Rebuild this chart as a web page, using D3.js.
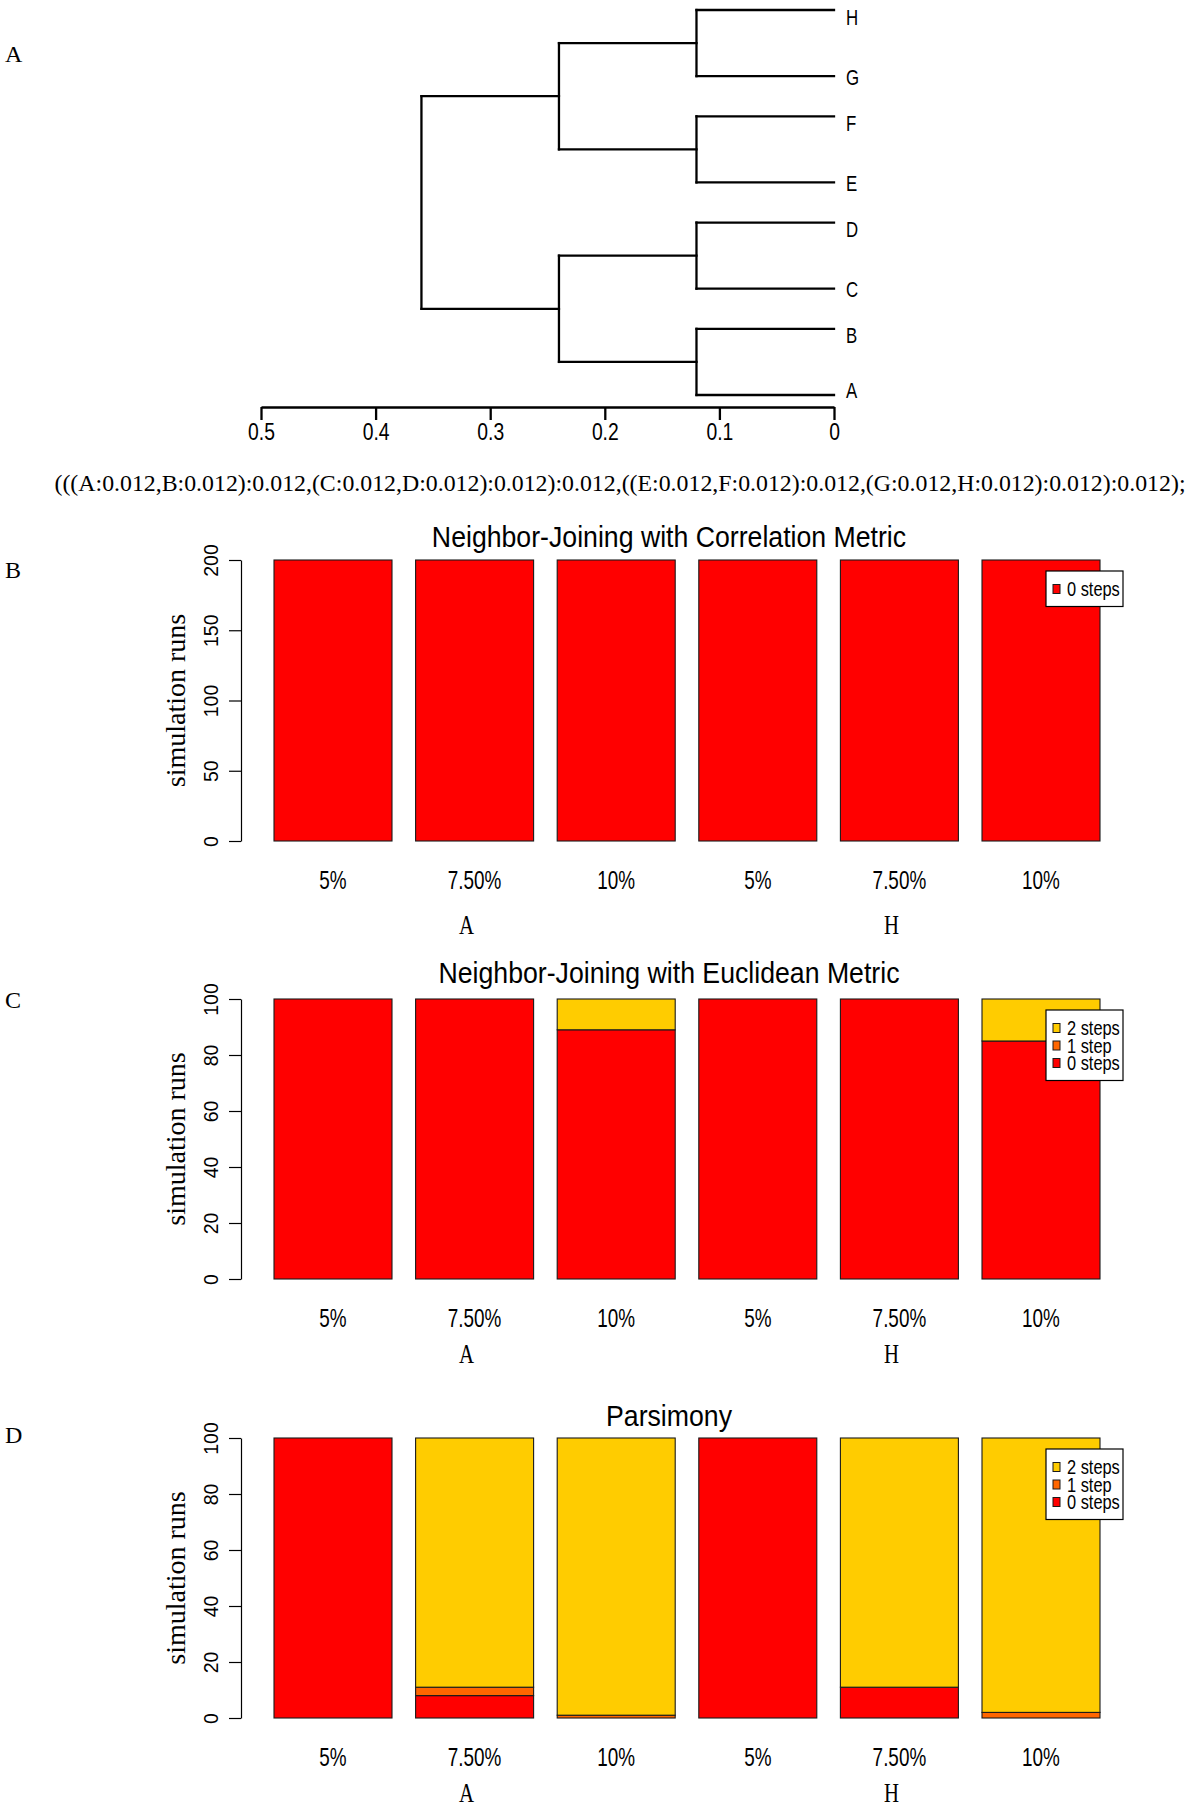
<!DOCTYPE html>
<html>
<head>
<meta charset="utf-8">
<script src="https://cdn.jsdelivr.net/npm/d3@7"></script>
<style>
  html, body { margin: 0; padding: 0; background: #fff; }
  svg { display: block; }
</style>
</head>
<body>
<svg id="fig" width="1200" height="1804"></svg>
<script>
// ---------------- DATA ----------------
// Panel A: tree (nested leaf pairs) and clade heights, by depth
const treeTopology = [[["A", "B"], ["C", "D"]], [["E", "F"], ["G", "H"]]];
const cladeHeights = [0.36, 0.24, 0.12, 0];   // root, second level, cherries, leaves
const treeAxisTicks = [0.5, 0.4, 0.3, 0.2, 0.1, 0];
const newickText = "(((A:0.012,B:0.012):0.012,(C:0.012,D:0.012):0.012):0.012,((E:0.012,F:0.012):0.012,(G:0.012,H:0.012):0.012):0.012);";

// Panels B-D: stacked bars
const barLabels = ["5%", "7.50%", "10%", "5%", "7.50%", "10%"];
const groupLabels = ["A", "H"];
const stepNames = ["0 steps", "1 step", "2 steps"];
const stepColors = ["#FF0000", "#FF6600", "#FFCC00"];

const corrZero = [200, 200, 200, 200, 200, 200];

const euclZero = [100, 100, 89, 100, 100, 85];
const euclOne  = [0, 0, 0, 0, 0, 0];
const euclTwo  = [0, 0, 11, 0, 0, 15];

const parsZero = [100, 8, 0, 100, 11, 0];
const parsOne  = [0, 3, 1, 0, 0, 2];
const parsTwo  = [0, 89, 99, 0, 89, 98];

const ticks200 = [0, 50, 100, 150, 200];
const ticks100 = [0, 20, 40, 60, 80, 100];

const panelTitles = ["Neighbor-Joining with Correlation Metric", "Neighbor-Joining with Euclidean Metric", "Parsimony"];
const panelLetters = ["A", "B", "C", "D"];
const yAxisTitle = "simulation runs";

// ---------------- DRAWING ----------------
const svg = d3.select("#fig");
const SANS = "'Liberation Sans', Arial, Helvetica, sans-serif";
const SERIF = "'Liberation Serif', 'Times New Roman', serif";

function ctext(g, x, y, str, size, anchor, sx, family, sy) {
  return g.append("text")
    .attr("transform", `translate(${x},${y}) scale(${sx},${sy || 1})`)
    .attr("text-anchor", anchor)
    .attr("font-family", family || SANS)
    .attr("font-size", size)
    .attr("fill", "#000")
    .text(str);
}

// ----- Panel A: dendrogram -----
const gA = svg.append("g");
const xTree = d3.scaleLinear().domain([0.5, 0]).range([261, 834]);
const pairGap = 0.606;     // vertical spacing factor between leaf pairs
const root = d3.hierarchy(treeTopology, d => Array.isArray(d) ? d : null);
const leaves = root.leaves();      // A..H bottom to top
const unit = i => Math.floor(i / 2) * (1 + pairGap) + (i % 2);
const yTree = d3.scaleLinear().domain([0, unit(leaves.length - 1)]).range([395, 10]);
leaves.forEach((lf, i) => { lf.yPos = yTree(unit(i)); lf.upper = i % 2 === 1; });
root.eachAfter(n => {
  n.xPos = xTree(n.children ? cladeHeights[n.depth] : 0);
  if (n.children) n.yPos = d3.mean(n.children, c => c.yPos);
});

const branchStyle = sel => sel.attr("stroke", "#000").attr("stroke-width", 2.3).attr("stroke-linecap", "square");
root.descendants().filter(n => n.children).forEach(n => {
  const ys = n.children.map(c => c.yPos);
  gA.append("line").attr("x1", n.xPos).attr("x2", n.xPos)
    .attr("y1", d3.min(ys)).attr("y2", d3.max(ys)).call(branchStyle);
  n.children.forEach(c => {
    gA.append("line").attr("x1", n.xPos).attr("x2", c.xPos)
      .attr("y1", c.yPos).attr("y2", c.yPos).call(branchStyle);
  });
});
leaves.forEach((lf, i) => {
  const shift = lf.upper ? 6.5 : (i === 0 ? -5 : 0.5);
  ctext(gA, 846, lf.yPos + shift + 8, lf.data, 20.5, "start", 0.82, SANS, 1.1);
});

const treeAxis = d3.axisBottom(xTree).tickValues(treeAxisTicks).tickSize(13).tickSizeOuter(0).tickPadding(0)
  .tickFormat(d => d === 0 ? "0" : String(d));
const gTA = gA.append("g").attr("transform", "translate(0,407)").call(treeAxis);
gTA.select(".domain").attr("stroke", "#000").attr("stroke-width", 2.3);
gTA.selectAll(".tick line").attr("stroke", "#000").attr("stroke-width", 2.3);
gTA.selectAll(".tick text")
  .attr("y", null).attr("dy", null)
  .attr("transform", "translate(0,440) scale(0.92,1.15)".replace("440", "33"))
  .attr("font-family", SANS).attr("font-size", 21).attr("fill", "#000");

gA.append("text").attr("x", 620).attr("y", 491).attr("text-anchor", "middle")
  .attr("font-family", SERIF).attr("font-size", 23)
  .attr("textLength", 1131).attr("lengthAdjust", "spacingAndGlyphs")
  .text(newickText);

// panel letters
const letterBaselines = [62, 578, 1008, 1443];
panelLetters.forEach((L, i) => {
  svg.append("text").attr("x", 5).attr("y", letterBaselines[i])
    .attr("font-family", SERIF).attr("font-size", 24).attr("fill", "#000").text(L);
});

// ----- Bar panels -----
function barPanel(cfg) {
  const g = svg.append("g");
  const x = d3.scaleBand().domain(d3.range(barLabels.length)).range([274, 1100]).paddingInner(1 / 6).paddingOuter(0);
  const y = d3.scaleLinear().domain([0, cfg.max]).range([cfg.bottom, cfg.top]);

  const rows = barLabels.map((lab, i) => {
    const r = { i };
    cfg.series.forEach((s, k) => { r[cfg.keys[k]] = s[i]; });
    return r;
  });
  const stacked = d3.stack().keys(cfg.keys)(rows);
  stacked.forEach((layer, k) => {
    g.append("g").selectAll("rect").data(layer).join("rect")
      .attr("x", d => x(d.data.i))
      .attr("width", x.bandwidth())
      .attr("y", d => y(d[1]))
      .attr("height", d => y(d[0]) - y(d[1]))
      .attr("fill", cfg.colors[k])
      .attr("stroke", "#1a1a1a")
      .attr("stroke-width", 1.1);
  });

  // y axis
  const ax = d3.axisLeft(y).tickValues(cfg.ticks).tickSize(12).tickSizeOuter(0).tickFormat(d3.format("d"));
  const gAx = g.append("g").attr("transform", "translate(241,0)").call(ax);
  gAx.select(".domain").attr("stroke", "#000").attr("stroke-width", 1.2);
  gAx.selectAll(".tick line").attr("stroke", "#000").attr("stroke-width", 1.2);
  gAx.selectAll(".tick text")
    .attr("x", null).attr("dy", null)
    .attr("text-anchor", "middle")
    .attr("transform", "translate(-23,0) rotate(-90)")
    .attr("font-family", SANS).attr("font-size", 19.5).attr("fill", "#000");

  // y title
  g.append("text")
    .attr("transform", `translate(185,${(cfg.top + cfg.bottom) / 2}) rotate(-90)`)
    .attr("text-anchor", "middle").attr("font-family", SERIF).attr("font-size", 28)
    .attr("fill", "#000").text(yAxisTitle);

  // title
  ctext(g, 669, cfg.top - cfg.titleGap, cfg.title, 27.5, "middle", 0.97, SANS, 1.08);

  // bar labels
  barLabels.forEach((lab, i) => {
    ctext(g, x(i) + x.bandwidth() / 2, cfg.bottom + 48, lab, 22.5, "middle", 0.84, SANS, 1.12);
  });
  // group labels
  groupLabels.forEach((lab, gi) => {
    const mid = gi * 3 + 1;
    ctext(g, x(mid) + x.bandwidth() / 2 - 8, cfg.bottom + cfg.groupGap, lab, 26, "middle", 0.8, SERIF, 1.05);
  });

  // legend
  const n = cfg.legendKeys.length;
  const boxTop = cfg.top + 11;
  const lg = g.append("g");
  lg.append("rect").attr("x", 1046).attr("y", boxTop).attr("width", 77).attr("height", 17.5 * n + 18)
    .attr("fill", "#fff").attr("stroke", "#000").attr("stroke-width", 1.2);
  cfg.legendKeys.slice().reverse().forEach((k, j) => {
    const idx = stepNames.indexOf(k);
    const cy = boxTop + 18 + 17.5 * j;
    lg.append("rect").attr("x", 1053).attr("y", cy - 4.5).attr("width", 7).attr("height", 9)
      .attr("fill", stepColors[idx]).attr("stroke", "#1a1a1a").attr("stroke-width", 1);
    ctext(lg, 1067, cy + 7.2, k, 19.5, "start", 0.84, SANS, 1.05);
  });
}

barPanel({
  title: panelTitles[0], keys: ["0 steps"], series: [corrZero], colors: [stepColors[0]],
  max: 200, ticks: ticks200, top: 560, bottom: 841, titleGap: 13, groupGap: 93,
  legendKeys: ["0 steps"]
});
barPanel({
  title: panelTitles[1], keys: stepNames, series: [euclZero, euclOne, euclTwo], colors: stepColors,
  max: 100, ticks: ticks100, top: 999, bottom: 1279, titleGap: 16, groupGap: 84,
  legendKeys: stepNames
});
barPanel({
  title: panelTitles[2], keys: stepNames, series: [parsZero, parsOne, parsTwo], colors: stepColors,
  max: 100, ticks: ticks100, top: 1438, bottom: 1718, titleGap: 12, groupGap: 84,
  legendKeys: stepNames
});
</script>
</body>
</html>
